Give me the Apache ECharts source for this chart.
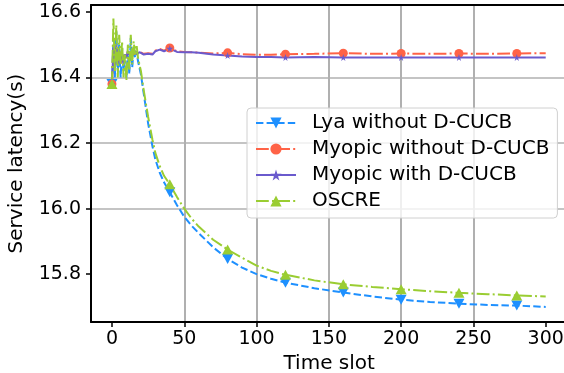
<!DOCTYPE html>
<html>
<head>
<meta charset="utf-8">
<script src="https://cdn.jsdelivr.net/npm/echarts@6/dist/echarts.min.js"></script>
<style>html,body{margin:0;padding:0;background:#fff;overflow:hidden;}#c{width:564px;height:373px;}</style>
</head>
<body>
<div id="c"></div>
<script>
var slots = [0,1,2,3,4,5,6,7,8,9,10,11,12,13,14,15,16,17,18,19,20,22,25,28,30,33,36,40,45,50,55,60,70,80,90,100,110,120,140,160,180,200,220,240,260,280,300];
var lya = [16.38,16.52,16.40,16.54,16.42,16.50,16.40,16.49,16.42,16.45,16.40,16.48,16.41,16.52,16.43,16.49,16.46,16.48,16.45,16.43,16.41,16.35,16.26,16.19,16.15,16.11,16.08,16.05,16.01,15.975,15.948,15.925,15.882,15.846,15.82,15.80,15.786,15.774,15.757,15.744,15.732,15.722,15.715,15.710,15.706,15.704,15.700];
var myopicWithout = [16.38,16.50,16.44,16.49,16.45,16.47,16.44,16.48,16.45,16.47,16.46,16.48,16.47,16.47,16.48,16.47,16.48,16.47,16.476,16.478,16.476,16.472,16.474,16.472,16.482,16.487,16.482,16.49,16.48,16.478,16.477,16.476,16.473,16.475,16.471,16.469,16.469,16.471,16.472,16.474,16.472,16.473,16.472,16.473,16.472,16.473,16.474];
var myopicWith = [16.38,16.49,16.43,16.50,16.44,16.48,16.45,16.47,16.44,16.47,16.46,16.48,16.47,16.465,16.475,16.47,16.48,16.47,16.475,16.477,16.475,16.47,16.472,16.47,16.48,16.485,16.48,16.488,16.478,16.477,16.477,16.475,16.47,16.467,16.464,16.462,16.462,16.461,16.462,16.461,16.461,16.461,16.461,16.461,16.461,16.461,16.461];
var oscre = [16.38,16.58,16.42,16.56,16.40,16.53,16.44,16.51,16.40,16.47,16.39,16.50,16.42,16.53,16.44,16.51,16.47,16.50,16.46,16.44,16.42,16.36,16.28,16.21,16.17,16.13,16.10,16.074,16.035,16.00,15.97,15.945,15.905,15.875,15.85,15.826,15.81,15.798,15.781,15.769,15.761,15.754,15.748,15.743,15.739,15.735,15.732];
var markerSlots = [0,40,80,120,160,200,240,280];
var xTicks = [0,50,100,150,200,250,300];
var yTicks = [15.8,16.0,16.2,16.4,16.6];
var seriesNames = ['Lya without D-CUCB','Myopic without D-CUCB','Myopic with D-CUCB','OSCRE'];

function build(vals) {
  return slots.map(function(s, i) {
    var item = {value: [s, vals[i]]};
    if (markerSlots.indexOf(s) < 0) item.symbol = 'none';
    return item;
  });
}
var downTri = 'path://M0,0L10,0L5,9Z';
var star = 'path://M50,0L61,35L98,35L68,57L79,91L50,70L21,91L32,57L2,35L39,35Z';
var FONT = 'DejaVu Sans';

var chart = echarts.init(document.getElementById('c'), null, {renderer: 'canvas'});
chart.setOption({
  animation: false,
  backgroundColor: '#fff',
  grid: {left: 91, top: 5, right: -3.4, bottom: 51, show: false, containLabel: false, outerBoundsMode: 'none'},
  legend: {
    orient: 'vertical', left: 247, top: 108,
    padding: [5, 8, 7, 8], itemGap: 6, itemWidth: 40, itemHeight: 14,
    backgroundColor: 'rgba(255,255,255,0.8)', borderColor: '#d0d0d0', borderWidth: 1, borderRadius: 4,
    textStyle: {fontFamily: FONT, fontSize: 20, lineHeight: 19.8, color: '#000', padding: [0, 0, 0, 11]},
    data: seriesNames
  },
  xAxis: [{
    type: 'value', min: -14.5, max: 315,
    name: 'Time slot', nameLocation: 'middle', nameGap: 29,
    nameTextStyle: {fontFamily: FONT, fontSize: 20, color: '#000'},
    axisLine: {show: true, onZero: false, lineStyle: {color: '#000', width: 2}},
    axisTick: {show: true, length: 5, customValues: xTicks, lineStyle: {color: '#000', width: 1.5}},
    axisLabel: {customValues: xTicks, fontFamily: FONT, fontSize: 19, color: '#000', margin: 8},
    splitLine: {show: true, showMinLine: false, showMaxLine: false, lineStyle: {color: '#b0b0b0', width: 2}}
  }, {
    type: 'value', position: 'top', min: -14.5, max: 315,
    axisLine: {show: true, onZero: false, lineStyle: {color: '#000', width: 2}},
    axisTick: {show: false}, axisLabel: {show: false}, splitLine: {show: false}
  }],
  yAxis: {
    type: 'value', min: 15.654, max: 16.621,
    name: 'Service latency(s)', nameLocation: 'middle', nameGap: 64, nameRotate: 90,
    nameTextStyle: {fontFamily: FONT, fontSize: 20, color: '#000'},
    axisLine: {show: true, onZero: false, lineStyle: {color: '#000', width: 2}},
    axisTick: {show: true, length: 5, customValues: yTicks, lineStyle: {color: '#000', width: 1.5}},
    axisLabel: {customValues: yTicks, fontFamily: FONT, fontSize: 19, color: '#000', margin: 10,
      formatter: function(v){ return v.toFixed(1); }},
    splitLine: {show: true, showMinLine: false, showMaxLine: false, lineStyle: {color: '#b0b0b0', width: 1.5}}
  },
  series: [
    {name: seriesNames[0], type: 'line', data: build(lya), symbol: downTri, symbolSize: [11, 10], showAllSymbol: true,
     color: '#1E90FF', lineStyle: {width: 2, type: [7.4, 3.2]}, itemStyle: {color: '#1E90FF'}},
    {name: seriesNames[1], type: 'line', data: build(myopicWithout), symbol: 'circle', symbolSize: 9, showAllSymbol: true,
     color: '#FF6347', lineStyle: {width: 2, type: [12.8, 3.2, 2, 3.2]}, itemStyle: {color: '#FF6347'}},
    {name: seriesNames[2], type: 'line', data: build(myopicWith), symbol: star, symbolSize: 7, showAllSymbol: true,
     color: '#6A5ACD', lineStyle: {width: 2}, itemStyle: {color: '#6A5ACD'}},
    {name: seriesNames[3], type: 'line', data: build(oscre), symbol: 'triangle', symbolSize: [11, 10], showAllSymbol: true,
     color: '#9ACD32', lineStyle: {width: 2, type: [12.8, 3.2, 2, 3.2]}, itemStyle: {color: '#9ACD32'}}
  ]
});
</script>
</body>
</html>
